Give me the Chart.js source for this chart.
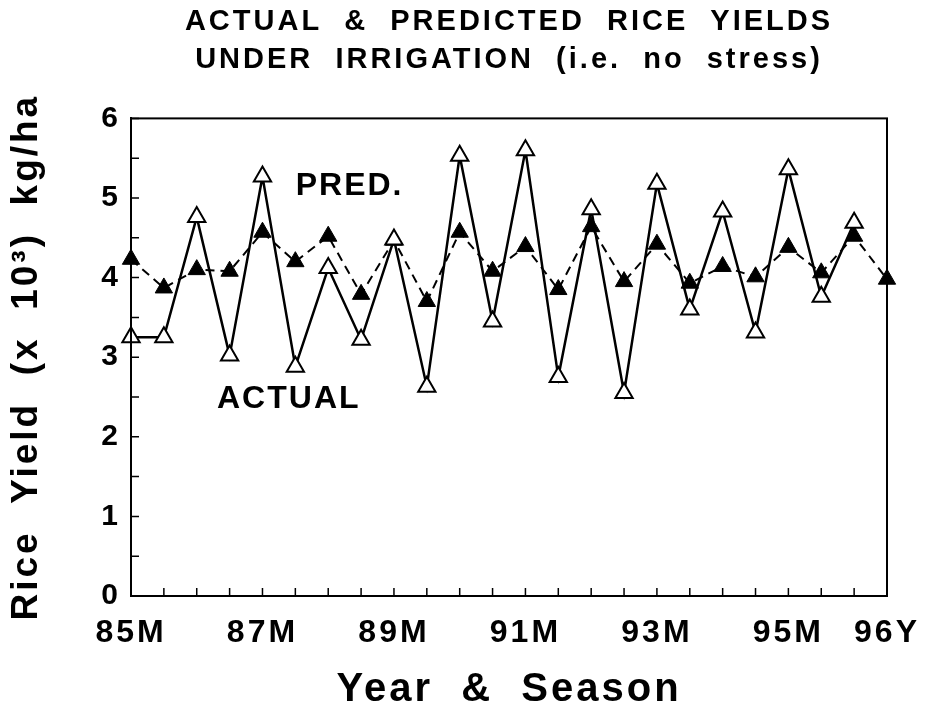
<!DOCTYPE html>
<html>
<head>
<meta charset="utf-8">
<script src="https://cdn.jsdelivr.net/npm/chart.js@4"></script>
<style>
  html, body { margin: 0; padding: 0; background: #fff; }
  #wrap { width: 927px; height: 704px; }
</style>
</head>
<body>
<div id="wrap"><canvas id="myChart" width="927" height="704"></canvas></div>
<script>
// seasons: M = main, Y = second season
const seasons = ['85M','85Y','86M','86Y','87M','87Y','88M','88Y','89M','89Y','90M','90Y',
                 '91M','91Y','92M','92Y','93M','93Y','94M','94Y','95M','95Y','96M','96Y'];
const shownLabels = ['85M','87M','89M','91M','93M','95M','96Y'];

// rice yield, x 10^3 kg/ha
const actual = [3.25, 3.25, 4.76, 3.02, 5.27, 2.88, 4.12, 3.22, 4.48, 2.63, 5.53, 3.45,
                5.6, 2.75, 4.86, 2.55, 5.18, 3.6, 4.83, 3.31, 5.36, 3.76, 4.69];
const predicted = [4.23, 3.87, 4.1, 4.08, 4.57, 4.2, 4.52, 3.79, 4.47, 3.7, 4.57, 4.08,
                   4.39, 3.85, 4.64, 3.95, 4.42, 3.93, 4.14, 4.01, 4.38, 4.06, 4.52, 3.98];

const yTicks = [0, 1, 2, 3, 4, 5, 6];

const FONT = "'Liberation Sans', Arial, sans-serif";

// text labels inside the plot (placed in data coordinates)
const notes = [
  { text: 'PRED.', x: 6.65, y: 5.15 },
  { text: 'ACTUAL', x: 4.8, y: 2.47 }
];

const framePlugin = {
  id: 'frame',
  beforeDraw(chart) {
    chart.ctx.letterSpacing = '3px';
  },
  afterDatasetsDraw(chart) {
    const ctx = chart.ctx;
    const a = chart.chartArea;
    const xs = chart.scales.x, ys = chart.scales.y;
    ctx.save();
    ctx.strokeStyle = '#000';
    ctx.lineWidth = 2;
    ctx.strokeRect(a.left, a.top, a.right - a.left, a.bottom - a.top);
    ctx.lineWidth = 1.5;
    ctx.beginPath();
    for (let i = 0; i < seasons.length; i++) {
      const px = xs.getPixelForValue(i);
      ctx.moveTo(px, a.bottom);
      ctx.lineTo(px, a.bottom - 8);
    }
    for (let v = 0; v <= 6; v += 0.5) {
      const py = ys.getPixelForValue(v);
      ctx.moveTo(a.left, py);
      ctx.lineTo(a.left + 8, py);
    }
    ctx.stroke();
    ctx.fillStyle = '#000';
    ctx.font = 'bold 32px ' + FONT;
    ctx.letterSpacing = '2px';
    ctx.textAlign = 'center';
    ctx.textBaseline = 'middle';
    notes.forEach(function(n) {
      ctx.fillText(n.text, xs.getPixelForValue(n.x), ys.getPixelForValue(n.y));
    });
    ctx.restore();
  }
};

const ctx = document.getElementById('myChart').getContext('2d');
const myChart = new Chart(ctx, {
  type: 'line',
  data: {
    labels: seasons,
    datasets: [{
      label: 'ACTUAL',
      data: actual,
      borderColor: '#000',
      borderWidth: 2.5,
      pointStyle: 'triangle',
      pointRadius: 10,
      pointBorderWidth: 2,
      pointBackgroundColor: '#fff',
      pointBorderColor: '#000',
      tension: 0
    }, {
      label: 'PRED.',
      data: predicted,
      borderColor: '#000',
      borderWidth: 2,
      borderDash: [9, 6],
      pointStyle: 'triangle',
      pointRadius: 10,
      pointBorderWidth: 1,
      pointBackgroundColor: '#000',
      pointBorderColor: '#000',
      tension: 0
    }]
  },
  options: {
    responsive: false,
    animation: false,
    layout: { padding: { left: 0, right: 40, top: 0, bottom: 0 } },
    plugins: {
      legend: { display: false },
      tooltip: { enabled: false },
      title: {
        display: true,
        fullSize: false,
        text: ['ACTUAL  &  PREDICTED  RICE  YIELDS', 'UNDER  IRRIGATION  (i.e.  no  stress)'],
        color: '#000',
        font: { family: FONT, size: 29, weight: 'bold', lineHeight: 1.3 },
        padding: { top: 3, bottom: 40 }
      }
    },
    scales: {
      x: {
        type: 'category',
        offset: false,
        grid: { display: false, drawTicks: false },
        border: { display: true, color: '#000', width: 2 },
        ticks: {
          autoSkip: false,
          maxRotation: 0,
          color: '#000',
          padding: 18,
          font: { family: FONT, size: 32, weight: 'bold' },
          callback: function(value) {
            const lab = seasons[value];
            return shownLabels.includes(lab) ? lab : '';
          }
        },
        title: {
          display: true,
          text: 'Year  &  Season',
          color: '#000',
          font: { family: FONT, size: 40, weight: 'bold', lineHeight: 1 },
          padding: { top: 0, bottom: -6 }
        },
        afterFit: function(scale) {
          scale.height = 108;
          scale.paddingRight = 0;
        }
      },
      y: {
        min: 0,
        max: 6,
        grid: { display: false, drawTicks: false },
        border: { display: true, color: '#000', width: 2 },
        afterBuildTicks: function(scale) {
          scale.ticks = yTicks.map(function(v) { return { value: v }; });
        },
        ticks: {
          color: '#000',
          padding: 10,
          font: { family: FONT, size: 30, weight: 'bold' }
        },
        title: {
          display: true,
          text: 'Rice  Yield  (x  10³)  kg/ha',
          color: '#000',
          font: { family: FONT, size: 37, weight: 'bold', lineHeight: 1.2 },
          padding: { top: 5, bottom: 0 }
        },
        afterFit: function(scale) { scale.width = 131; }
      }
    }
  },
  plugins: [framePlugin]
});
</script>
</body>
</html>
